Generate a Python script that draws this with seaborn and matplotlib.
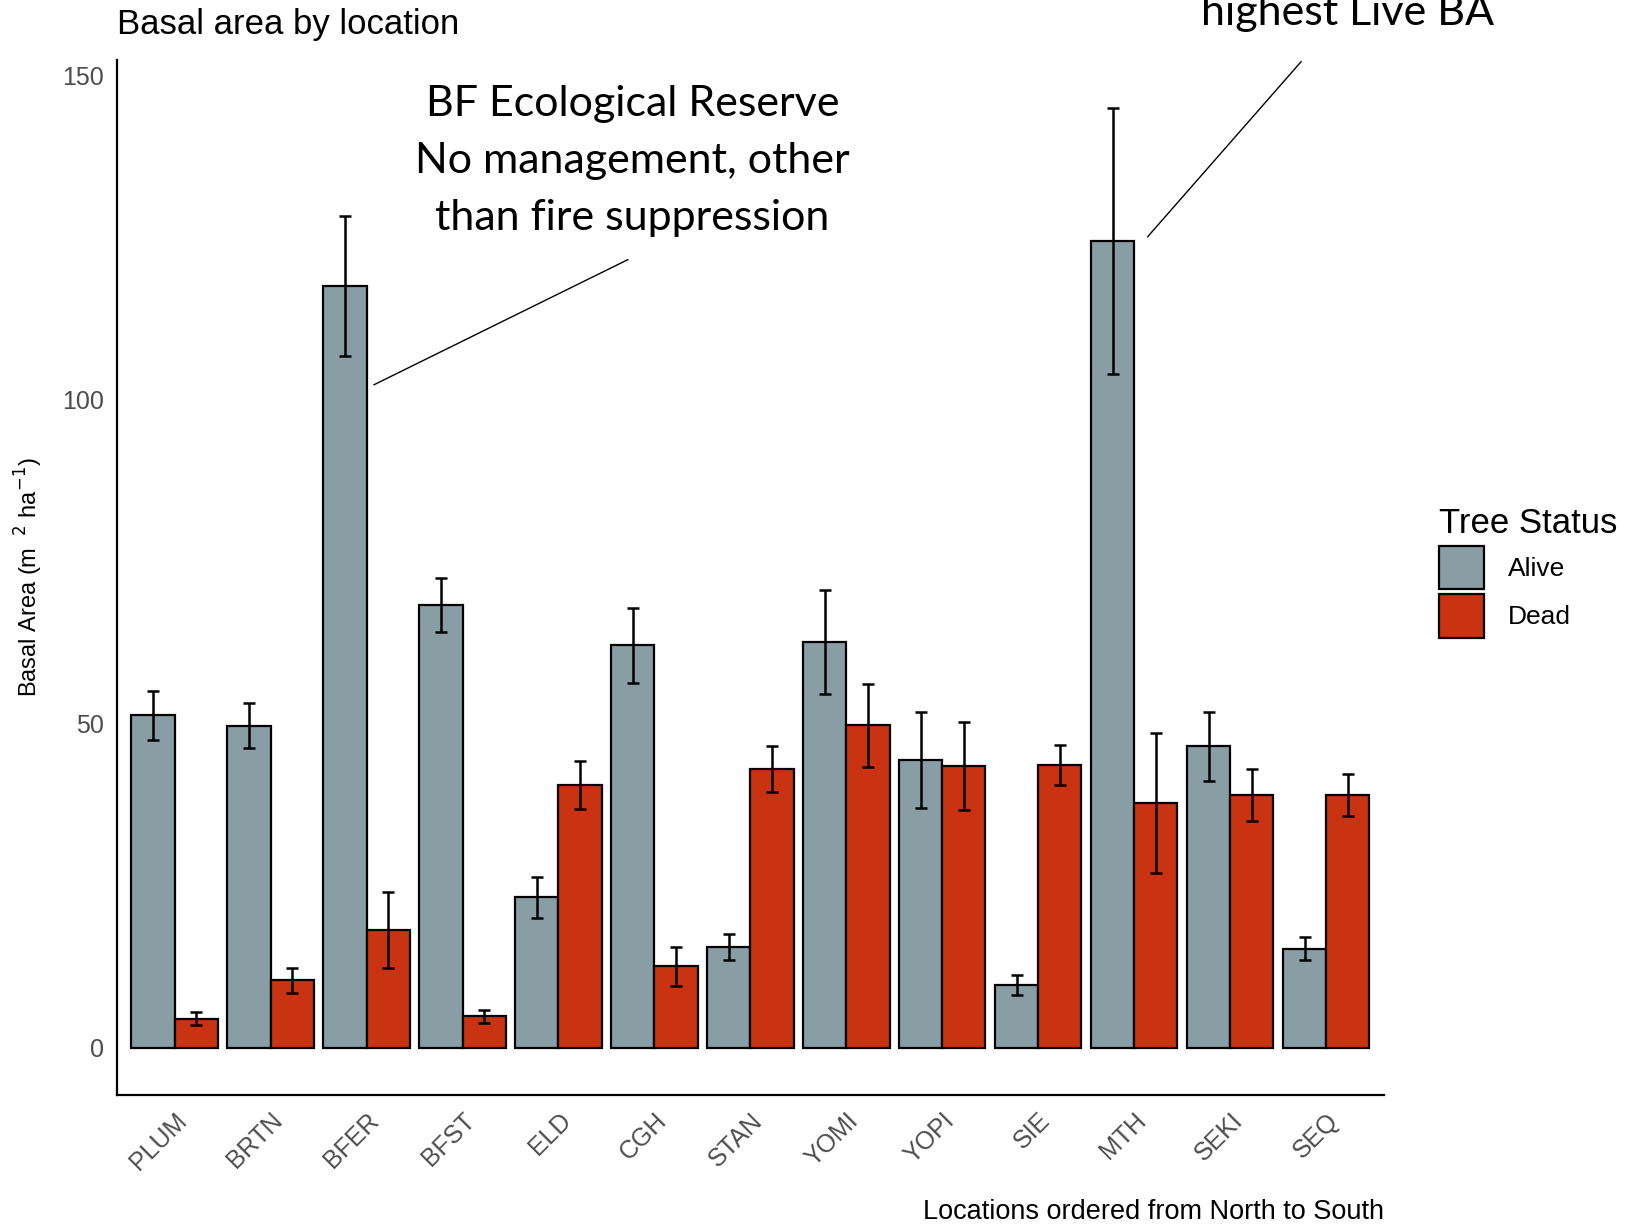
import numpy as np
import pandas as pd
import seaborn as sns
import matplotlib.pyplot as plt
from matplotlib.patches import Patch

# values (mean and half-width of error bar)
locations = ["PLUM", "BRTN", "BFER", "BFST", "ELD", "CGH", "STAN",
             "YOMI", "YOPI", "SIE", "MTH", "SEKI", "SEQ"]
alive_ba = [51.3, 49.7, 117.5, 68.3, 23.2, 62.1, 15.6, 62.6, 44.4, 9.7, 124.5, 46.5, 15.3]
alive_se = [3.8, 3.5, 10.8, 4.2, 3.1, 5.8, 2.0, 8.0, 7.4, 1.5, 20.5, 5.3, 1.8]
dead_ba = [4.5, 10.4, 18.2, 4.9, 40.6, 12.6, 43.0, 49.8, 43.5, 43.6, 37.7, 39.0, 39.0]
dead_se = [1.0, 1.9, 5.9, 1.0, 3.7, 3.0, 3.5, 6.4, 6.8, 3.1, 10.8, 4.0, 3.2]
status_levels = ["Alive", "Dead"]
status_colors = {"Alive": "#899DA4", "Dead": "#C93312"}

df = pd.DataFrame({
    "location": locations * 2,
    "status": ["Alive"] * len(locations) + ["Dead"] * len(locations),
    "ba": alive_ba + dead_ba,
    "se": alive_se + dead_se,
})

sns.set_style("white")
plt.rcParams["font.family"] = ["Liberation Sans", "DejaVu Sans"]
plt.rcParams["text.color"] = "black"
plt.rcParams["axes.labelcolor"] = "black"

fig = plt.figure(figsize=(16.26, 12.25), dpi=100)
ax = fig.add_axes([0.072, 0.106, 0.779, 0.845])

sns.barplot(data=df, x="location", y="ba", hue="status", hue_order=status_levels,
            order=locations, palette=status_colors, errorbar=None, width=0.9,
            gap=0, edgecolor="black", linewidth=1.6, saturation=1, ax=ax)

# error bars centred on the bars seaborn drew
for cont, lvl in zip(ax.containers, status_levels):
    sub = df[df["status"] == lvl].set_index("location").loc[locations]
    xs = [b.get_x() + b.get_width() / 2 for b in cont]
    ax.errorbar(xs, sub["ba"], yerr=sub["se"], fmt="none", ecolor="black",
                elinewidth=1.8, capsize=4.5, capthick=1.8, zorder=5)

ax.set_xlim(-0.6, len(locations) - 0.4)
ax.set_ylim(-7.3, 152.4)
ax.set_yticks([0, 50, 100, 150])
ax.tick_params(axis="both", colors="#333333", length=6, width=1.4,
               labelcolor="#4D4D4D", labelsize=18)
plt.setp(ax.get_xticklabels(), rotation=45, ha="right", rotation_mode="anchor")
for s in ["top", "right"]:
    ax.spines[s].set_visible(False)
for s in ["left", "bottom"]:
    ax.spines[s].set_linewidth(1.6)
    ax.spines[s].set_color("black")

ax.set_ylabel(r"Basal Area (m $^{\ 2}$ ha$^{-1}$)", fontsize=17, labelpad=12)
ax.set_xlabel("Locations ordered from North to South", fontsize=19.5, loc="right", labelpad=18)
ax.set_title("Basal area by location", fontsize=25, loc="left", pad=19, color="black")

handles = [Patch(facecolor=status_colors[l], edgecolor="black", linewidth=1.6) for l in status_levels]
leg = ax.legend(handles, status_levels, title="Tree Status", loc="center left",
                bbox_to_anchor=(1.025, 0.505), frameon=False, fontsize=19,
                title_fontsize=25, handlelength=1.7, handleheight=2.15,
                handletextpad=0.9, labelspacing=0.2)
leg._legend_box.align = "left"

# callouts
ax.annotate("", xy=(2.05, 102.1), xytext=(4.75, 121.8),
            arrowprops=dict(arrowstyle="-", lw=1, color="black"))
ax.annotate("", xy=(10.12, 124.8), xytext=(11.76, 152.5), annotation_clip=False,
            arrowprops=dict(arrowstyle="-", lw=1, color="black"))
fig.text(0.389, 0.931, "BF Ecological Reserve\nNo management, other\nthan fire suppression",
         ha="center", va="top", fontsize=31, family="Lato", linespacing=1.62)
fig.text(0.829, 0.98, "highest Live BA", ha="center", va="baseline",
         fontsize=31, family="Lato")

fig.savefig("out.png", dpi=100)
